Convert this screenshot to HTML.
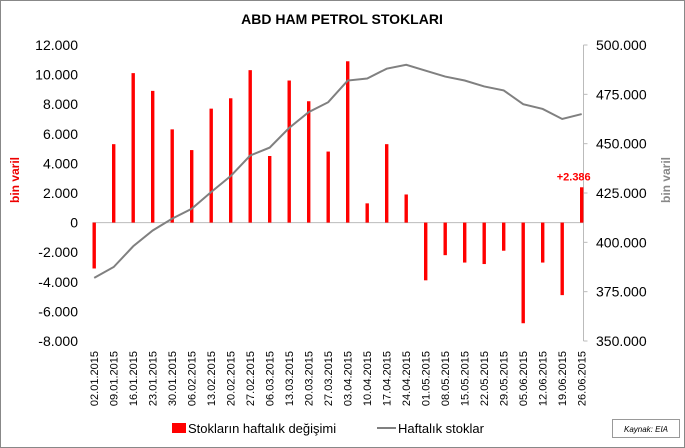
<!DOCTYPE html>
<html><head><meta charset="utf-8"><style>
body{margin:0;background:#fff}
svg{display:block;font-family:"Liberation Sans",sans-serif}
</style></head><body>
<svg width="685" height="448" viewBox="0 0 685 448">
<rect x="0.5" y="0.5" width="684" height="447" fill="#fff" stroke="#888"/>
<text x="342" y="24" text-anchor="middle" font-size="14" font-weight="bold">ABD HAM PETROL STOKLARI</text>
<g id="g"></g>
<text transform="translate(19,180) rotate(-90)" text-anchor="middle" font-size="12" font-weight="bold" fill="#e00">bin varil</text>
<text transform="translate(670,180) rotate(-90)" text-anchor="middle" font-size="12" font-weight="bold" fill="#888">bin varil</text>
<g>
<rect x="172" y="423" width="14" height="10" fill="#f00"/>
<text x="188" y="433" font-size="13">Stokların haftalık değişimi</text>
<line x1="377" y1="428" x2="396" y2="428" stroke="#808080" stroke-width="2"/>
<text x="398" y="433" font-size="13">Haftalık stoklar</text>
</g>
<rect x="612.5" y="419.5" width="67" height="18" fill="#fff" stroke="#999"/>
<text x="646" y="432" text-anchor="middle" font-size="8" font-style="italic">Kaynak: EIA</text>
</svg>
<script>
const categories=["02.01.2015","09.01.2015","16.01.2015","23.01.2015","30.01.2015","06.02.2015","13.02.2015","20.02.2015","27.02.2015","06.03.2015","13.03.2015","20.03.2015","27.03.2015","03.04.2015","10.04.2015","17.04.2015","24.04.2015","01.05.2015","08.05.2015","15.05.2015","22.05.2015","29.05.2015","05.06.2015","12.06.2015","19.06.2015","26.06.2015"];
const weeklyChange=[-3100,5300,10100,8900,6300,4900,7700,8400,10300,4500,9600,8200,4800,10900,1300,5300,1900,-3900,-2200,-2700,-2800,-1900,-6800,-2700,-4900,2386];
const stocks=[382,387.5,398,406,412,417,425.5,433.6,444,448,458,466,471,482,483,488,490,487,484,482,479,477,470,467.6,462.5,465];
const leftTicks=[-8000,-6000,-4000,-2000,0,2000,4000,6000,8000,10000,12000];
const rightTicks=[350,375,400,425,450,475,500];
const NS="http://www.w3.org/2000/svg";
const g=document.getElementById("g");
const C0=94.2,C1=581.7,Y0=45,Y1=341,AX=583.5;
const step=(C1-C0)/(categories.length-1);
const xc=i=>C0+step*i;
const yL=v=>Y1-(v+8000)/20000*(Y1-Y0);
const yR=v=>Y1-(v-350)/150*(Y1-Y0);
function mk(t,a,txt){const e=document.createElementNS(NS,t);for(const k in a)e.setAttribute(k,a[k]);if(txt!=null)e.textContent=txt;g.appendChild(e);return e;}
const fmt=v=>{const s=Math.abs(v).toString().replace(/\B(?=(\d{3})+(?!\d))/g,".");return (v<0?"-":"")+s;};
leftTicks.forEach(v=>{const e=mk("text",{x:78,y:yL(v)+5,"text-anchor":"end","font-size":"14"},fmt(v));

});
rightTicks.forEach(v=>{const e=mk("text",{x:596,y:yR(v)+5,"font-size":"14"},fmt(v*1000)+"");


const t=mk("line",{x1:AX,x2:AX+4,y1:yR(v),y2:yR(v),stroke:"#bbb"});

});
const ax=mk("line",{x1:AX,x2:AX,y1:Y0,y2:Y1,stroke:"#bbb"});


const zl=mk("line",{x1:C0-1.7,x2:AX,y1:yL(0),y2:yL(0),stroke:"#bbb"});


weeklyChange.forEach((v,i)=>{const a=yL(v),b=yL(0);
const r=mk("rect",{x:xc(i)-1.7,y:Math.min(a,b),width:3.4,height:Math.abs(a-b),fill:"#f00"});

});
categories.forEach((c,i)=>{const t=mk("text",{transform:`translate(${xc(i)+4},351) rotate(-90)`,"text-anchor":"end","font-size":"11"},c);

});
const p=mk("polyline",{points:stocks.map((v,i)=>xc(i)+","+yR(v)).join(" "),fill:"none",stroke:"#808080","stroke-width":"2"});


const last=weeklyChange.length-1;
const lb=mk("text",{x:xc(last)-8,y:yL(weeklyChange[last])-7,"text-anchor":"middle","font-size":"11","font-weight":"bold",fill:"#f00"},"+"+fmt(weeklyChange[last]));


</script>
</body></html>
